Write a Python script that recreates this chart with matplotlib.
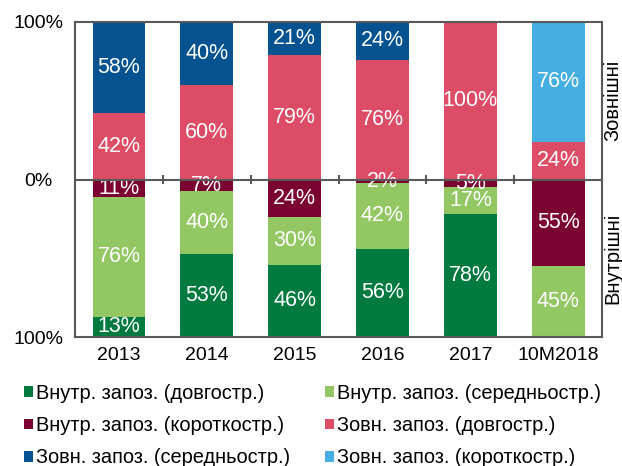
import numpy as np
import matplotlib.pyplot as plt

plt.rcParams['font.family'] = ['Liberation Sans', 'DejaVu Sans']

# --------------------------------------------------
# Data (shares, %)
# --------------------------------------------------
years = ["2013", "2014", "2015", "2016", "2017", "10M2018"]

# external borrowing (upper half)
ext_long = [42, 60, 79, 76, 100, 24]
ext_mid = [58, 40, 21, 24, 0, 0]
ext_short = [0, 0, 0, 0, 0, 76]

# internal borrowing (lower half, drawn downwards from zero)
int_short = [11, 7, 24, 2, 5, 55]
int_mid = [76, 40, 30, 42, 17, 45]
int_long = [13, 53, 46, 56, 78, 0]

names = {
    "int_long": "Внутр. запоз. (довгостр.)",
    "int_mid": "Внутр. запоз. (середньостр.)",
    "int_short": "Внутр. запоз. (короткостр.)",
    "ext_long": "Зовн. запоз. (довгостр.)",
    "ext_mid": "Зовн. запоз. (середньостр.)",
    "ext_short": "Зовн. запоз. (короткостр.)",
}
colors = {
    "int_long": "#017A40",
    "int_mid": "#93C763",
    "int_short": "#7B0331",
    "ext_long": "#DC4C67",
    "ext_mid": "#04528F",
    "ext_short": "#45AEE3",
}

# --------------------------------------------------
# Plot
# --------------------------------------------------
fig = plt.figure(figsize=(6.22, 4.66), dpi=100)
ax = fig.add_axes([0.1206, 0.2768, 0.8474, 0.676])

x = np.arange(len(years))
width = 0.6

def stack(series_list, keys, sign):
    base = np.zeros(len(years))
    handles = {}
    for key, vals in zip(keys, series_list):
        vals = np.array(vals, dtype=float)
        h = ax.bar(x, sign * vals, width, bottom=base, color=colors[key], label=names[key])
        handles[key] = h
        for i, v in enumerate(vals):
            if v > 0:
                ax.text(x[i], base[i] + sign * v / 2, f"{int(v)}%", ha="center", va="center",
                        color="white", fontsize=15.5)
        base = base + sign * vals
    return handles

h_up = stack([ext_long, ext_mid, ext_short], ["ext_long", "ext_mid", "ext_short"], 1)
h_dn = stack([int_short, int_mid, int_long], ["int_short", "int_mid", "int_long"], -1)
handles = {**h_up, **h_dn}

ax.set_xlim(-0.5, len(years) - 0.5)
ax.set_ylim(-100, 100)

# zero line with category separators
ax.axhline(0, color="#595959", lw=1.5, zorder=3)
ax.vlines(x[:-1] + 0.5, -3, 3, color="#595959", lw=1.5, zorder=3)

ax.set_yticks([-100, 0, 100])
ax.set_yticklabels(["100%", "0%", "100%"], fontsize=14, ha="center")
ax.set_xticks(x)
ax.set_xticklabels(years, fontsize=14)
ax.tick_params(axis="y", length=0, pad=26.5)
ax.tick_params(axis="x", length=0, pad=7)

for sp in ax.spines.values():
    sp.set_color("#595959")
    sp.set_linewidth(1.5)

ax.text(1.003, 0.75, "Зовнішні", transform=ax.transAxes, rotation=90,
        ha="left", va="center", fontsize=14.5)
ax.text(1.003, 0.25, "Внутрішні", transform=ax.transAxes, rotation=90,
        ha="left", va="center", fontsize=14.5)

# legend fills column-wise, so order to read row-wise like the original
order = ["int_long", "int_short", "ext_mid", "int_mid", "ext_long", "ext_short"]
fig.legend([handles[k] for k in order], [names[k] for k in order],
           loc="lower left", bbox_to_anchor=(0.025, -0.02), ncol=2, frameon=False,
           fontsize=14.4, handlelength=0.45, handleheight=0.45, handletextpad=0.15,
           columnspacing=1.75, labelspacing=0.66, borderaxespad=0)

fig.savefig("out.png", dpi=100)
